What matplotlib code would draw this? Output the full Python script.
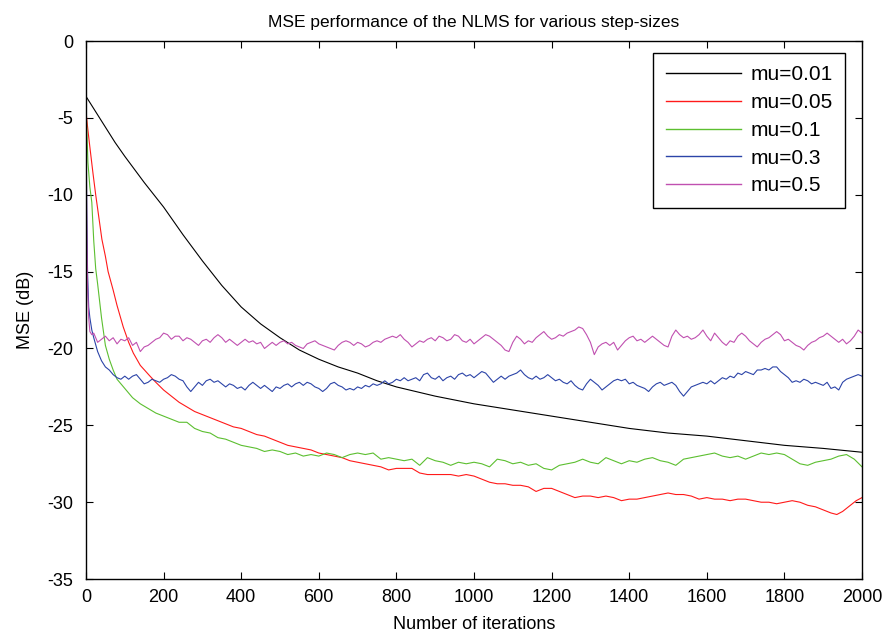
import matplotlib
matplotlib.use("Agg")
import matplotlib.pyplot as plt

plt.rcParams['font.family'] = ['Liberation Sans', 'DejaVu Sans']
plt.rcParams['axes.unicode_minus'] = False

# mu = 0.01 (smooth)
it_001 = [0, 25, 50, 75, 100, 150, 200, 250, 300, 350, 400, 450, 500, 550, 600, 650, 700, 750, 800,
          900, 1000, 1100, 1200, 1300, 1400, 1500, 1600, 1700, 1800, 1900, 2000]
mse_001 = [-3.6, -4.6, -5.6, -6.6, -7.5, -9.2, -10.8, -12.6, -14.3, -15.9, -17.3, -18.4, -19.3,
           -20.1, -20.7, -21.2, -21.6, -22.1, -22.5, -23.1, -23.6, -24.0, -24.4, -24.8, -25.2,
           -25.5, -25.7, -26.0, -26.3, -26.5, -26.75]

# mu = 0.05
it_005 = [0, 5, 10, 18, 25, 30, 41, 50, 57, 70, 80, 96, 110, 122, 140, 165, 180] + list(range(200, 1921, 20)) + [1935, 1950, 1970, 1985, 2000]
mse_005 = [-4.6, -5.8, -6.9, -8.6, -10.0, -10.9, -12.9, -14.0, -15.0, -16.2, -17.2, -18.6, -19.6,
           -20.3, -21.1, -21.8, -22.2,
           -22.7, -23.1, -23.5, -23.8, -24.1, -24.3, -24.5, -24.7, -24.9, -25.1,
           -25.2, -25.4, -25.6, -25.7, -25.9, -26.1, -26.3, -26.4, -26.5, -26.6,
           -26.8, -26.9, -27.0, -27.1, -27.3, -27.4, -27.5, -27.6, -27.7, -27.9,
           -27.8, -27.8, -27.8, -28.1, -28.2, -28.2, -28.2, -28.2, -28.3, -28.2,
           -28.3, -28.5, -28.7, -28.8, -28.8, -28.9, -28.9, -29.0, -29.3, -29.1,
           -29.1, -29.3, -29.5, -29.7, -29.6, -29.6, -29.7, -29.6, -29.7, -29.9,
           -29.8, -29.8, -29.7, -29.6, -29.5, -29.4, -29.5, -29.5, -29.6, -29.8,
           -29.7, -29.8, -29.8, -29.9, -29.8, -29.8, -29.9, -30.0, -30.0, -30.1,
           -30.0, -29.9, -30.0, -30.2, -30.3, -30.5, -30.7,
           -30.8, -30.6, -30.2, -29.9, -29.7]

# mu = 0.1
it_01 = [0, 5, 10, 15, 20, 25, 30, 40, 50, 60, 70, 80, 90, 100] + list(range(120, 2001, 20))
mse_01 = [-4.2, -7.9, -9.5, -10.5, -13.0, -14.8, -15.8, -18.0, -19.8, -20.7, -21.4, -22.0, -22.3, -22.6,
          -23.2, -23.6, -23.9, -24.2, -24.4, -24.6, -24.8, -24.8, -25.2, -25.4,
          -25.5, -25.8, -25.9, -26.1, -26.3, -26.4, -26.5, -26.7, -26.6, -26.7,
          -26.9, -26.8, -27.0, -26.9, -27.0, -26.8, -26.9, -27.1, -26.9, -26.8,
          -26.9, -26.8, -27.2, -27.1, -27.2, -27.3, -27.2, -27.6, -27.1, -27.3,
          -27.4, -27.6, -27.4, -27.5, -27.4, -27.5, -27.7, -27.2, -27.3, -27.5,
          -27.4, -27.6, -27.5, -27.8, -27.9, -27.6, -27.5, -27.4, -27.2, -27.4,
          -27.5, -27.1, -27.3, -27.5, -27.3, -27.4, -27.2, -27.1, -27.3, -27.4,
          -27.6, -27.2, -27.1, -27.0, -26.9, -26.8, -27.0, -27.1, -27.0, -27.2,
          -27.0, -26.8, -26.9, -26.8, -26.9, -27.2, -27.5, -27.6, -27.4, -27.3,
          -27.2, -27.0, -26.9, -27.2, -27.7]

# mu = 0.3
it_03 = [0, 2, 4, 7, 10, 15] + list(range(20, 2001, 10))
mse_03 = [-5.0, -11.0, -15.0, -17.3, -18.0, -18.8,
          -19.3, -20.2, -20.8, -21.2, -21.4, -21.7, -21.9, -22.0, -21.8, -22.0,
          -21.8, -21.7, -22.0, -22.3, -22.2, -22.0, -22.1, -22.2, -22.0, -21.9,
          -21.7, -21.8, -22.0, -22.1, -22.5, -22.8, -22.5, -22.2, -22.4, -22.1,
          -22.0, -22.2, -22.1, -22.3, -22.5, -22.3, -22.4, -22.6, -22.5, -22.7,
          -22.4, -22.2, -22.4, -22.6, -22.4, -22.6, -22.8, -22.5, -22.6, -22.4,
          -22.3, -22.5, -22.3, -22.2, -22.4, -22.2, -22.3, -22.5, -22.6, -22.8,
          -22.6, -22.3, -22.2, -22.4, -22.5, -22.7, -22.6, -22.7, -22.5, -22.6,
          -22.4, -22.5, -22.3, -22.4, -22.3, -22.1, -22.3, -22.2, -22.0, -22.1,
          -21.9, -22.1, -22.0, -21.9, -22.1, -21.7, -21.6, -21.9, -22.0, -21.8,
          -22.1, -21.9, -21.8, -22.0, -21.7, -21.6, -21.8, -21.7, -21.9, -21.7,
          -21.5, -21.6, -21.9, -22.2, -22.0, -21.8, -22.0, -21.8, -21.7, -21.6,
          -21.4, -21.7, -21.9, -22.0, -21.8, -22.0, -21.9, -21.7, -21.9, -22.1,
          -22.0, -22.2, -22.3, -22.1, -22.4, -22.6, -22.7, -22.3, -22.0, -22.2,
          -22.4, -22.7, -22.5, -22.3, -22.1, -22.0, -22.1, -22.0, -22.3, -22.2,
          -22.4, -22.5, -22.6, -22.8, -22.5, -22.3, -22.2, -22.4, -22.3, -22.2,
          -22.4, -22.8, -23.1, -22.8, -22.5, -22.4, -22.3, -22.2, -22.3, -22.1,
          -22.3, -22.1, -21.9, -22.0, -21.8, -21.9, -21.6, -21.7, -21.5, -21.6,
          -21.7, -21.4, -21.4, -21.3, -21.4, -21.2, -21.2, -21.5, -21.7, -21.9,
          -22.2, -22.1, -22.2, -22.0, -22.1, -22.3, -22.2, -22.3, -22.4, -22.2,
          -22.6, -22.5, -22.7, -22.2, -22.0, -21.9, -21.8, -21.7, -21.8]

# mu = 0.5
it_05 = [0, 2, 4, 7, 10, 15] + list(range(20, 2001, 10))
mse_05 = [-5.0, -12.0, -16.0, -18.0, -18.9, -19.1,
          -19.0, -19.6, -19.4, -19.2, -19.5, -19.3, -19.7, -19.4, -19.5, -19.3,
          -19.8, -19.6, -20.2, -19.9, -19.8, -19.6, -19.4, -19.3, -19.0, -19.1,
          -19.4, -19.2, -19.2, -19.5, -19.3, -19.4, -19.6, -19.8, -19.5, -19.4,
          -19.6, -19.3, -19.1, -19.3, -19.6, -19.4, -19.6, -19.8, -19.6, -19.4,
          -19.6, -19.5, -19.7, -19.6, -20.0, -19.8, -19.6, -19.8, -19.6, -19.5,
          -19.7, -19.6, -19.8, -19.9, -20.0, -19.7, -19.6, -19.5, -19.7, -19.8,
          -19.9, -20.0, -20.1, -19.8, -19.6, -19.5, -19.6, -19.8, -19.6, -19.7,
          -19.9, -19.8, -19.6, -19.5, -19.6, -19.4, -19.3, -19.2, -19.3, -19.1,
          -19.4, -19.6, -19.9, -19.7, -19.5, -19.6, -19.4, -19.3, -19.5, -19.2,
          -19.3, -19.5, -19.4, -19.1, -19.2, -19.5, -19.6, -19.4, -19.7, -19.5,
          -19.3, -19.1, -19.2, -19.4, -19.6, -19.8, -20.1, -20.2, -19.6, -19.2,
          -19.4, -19.7, -19.5, -19.6, -19.3, -19.1, -18.9, -19.2, -19.4, -19.3,
          -19.1, -19.2, -19.0, -18.9, -18.8, -18.6, -18.7, -19.1, -19.6, -20.4,
          -19.9, -19.7, -19.6, -19.8, -19.6, -20.1, -19.8, -19.5, -19.3, -19.2,
          -19.5, -19.4, -19.6, -19.4, -19.2, -19.4, -19.6, -19.8, -19.9, -19.2,
          -18.8, -19.1, -19.3, -19.2, -19.4, -19.3, -19.1, -18.8, -19.2, -19.5,
          -19.0, -19.3, -19.6, -19.8, -19.5, -19.6, -19.2, -19.0, -19.2, -19.5,
          -19.7, -19.9, -19.6, -19.4, -19.3, -19.1, -18.9, -19.1, -19.5, -19.4,
          -19.6, -19.8, -19.9, -20.1, -19.8, -19.6, -19.5, -19.3, -19.2, -19.0,
          -19.2, -19.4, -19.6, -19.4, -19.7, -19.5, -19.2, -18.8, -19.0]

labels = ["mu=0.01", "mu=0.05", "mu=0.1", "mu=0.3", "mu=0.5"]
colors = ["#000000", "#ff1a1a", "#5cbf30", "#2c44a8", "#c050b0"]

fig = plt.figure(figsize=(8.92, 6.36), dpi=100)
ax = fig.add_axes([0.0964, 0.0895, 0.8700, 0.8460])

series = [(it_001, mse_001), (it_005, mse_005), (it_01, mse_01), (it_03, mse_03), (it_05, mse_05)]
for (x, y), c, lab in zip(series, colors, labels):
    ax.plot(x, y, color=c, lw=0.8, label=lab)

ax.set_xlim(0, 2000)
ax.set_ylim(-35, 0)
ax.set_xticks(range(0, 2001, 200))
ax.set_yticks(range(-35, 1, 5))
ax.tick_params(direction='in', top=True, right=True, length=5, labelsize=13)
ax.tick_params(axis='x', pad=7)
ax.tick_params(axis='y', pad=9)
for s in ax.spines.values():
    s.set_linewidth(1.0)

ax.set_title("MSE performance of the NLMS for various step-sizes", fontsize=12.5, pad=10)
ax.set_xlabel("Number of iterations", fontsize=13, labelpad=7)
ax.set_ylabel("MSE (dB)", fontsize=13, labelpad=10)

leg = ax.legend(loc='upper right', bbox_to_anchor=(0.978, 0.978), borderaxespad=0, fontsize=15,
                handlelength=3.6, handletextpad=0.45, labelspacing=0.42, borderpad=0.6,
                fancybox=False, edgecolor='black', framealpha=1)
leg.get_frame().set_linewidth(1.0)
for h in leg.get_lines():
    h.set_linewidth(1.0)

fig.savefig("out.png", dpi=100)
